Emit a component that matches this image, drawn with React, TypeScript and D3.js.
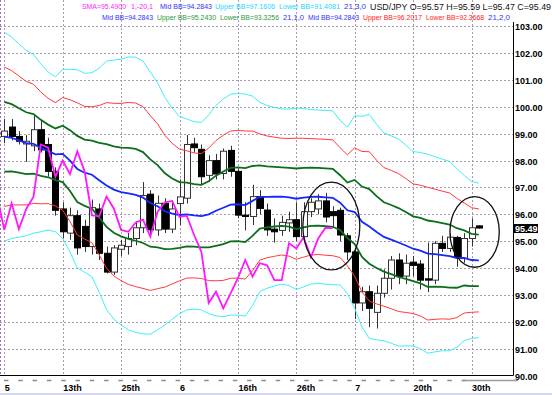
import React from 'react';
import * as d3 from 'd3';

// USD/JPY daily candles, left to right
const opens = [98.9, 99.25, 98.9, 98.62, 98.55, 99.15, 98.6, 97.6, 96.2, 95.3,
  95.95, 95.55, 94.8, 96.2, 94.55, 93.85, 94.7, 94.8, 95.1, 95.5,
  96.75, 95.42, 96.41, 95.45, 96.4, 96.6, 98.62, 98.42, 97.45, 98.0,
  97.52, 98.38, 97.6, 95.97, 95.92, 96.66, 96.16, 95.45, 95.4, 95.68,
  95.8, 95.17, 96.1, 96.2, 96.5, 96.1, 96.15, 95.2, 94.6, 92.7,
  93.12, 92.35, 93.06, 93.62, 94.3, 93.7, 94.22, 94.15, 93.6, 93.55,
  94.92, 94.73, 95.14, 94.36, 95.1, 95.57];
const highs = [99.55, 99.55, 99.1, 98.95, 99.7, 99.5, 98.85, 97.75, 96.45, 96.25,
  96.15, 95.8, 96.55, 96.4, 94.8, 94.85, 95.05, 95.3, 95.75, 97.2,
  96.9, 96.7, 96.6, 96.5, 97.3, 98.95, 98.85, 98.6, 98.2, 98.25,
  98.45, 98.55, 97.7, 96.45, 97.1, 96.9, 96.4, 95.85, 95.95, 96.1,
  96.45, 96.45, 96.6, 96.75, 96.8, 96.3, 96.25, 95.3, 94.75, 93.3,
  93.35, 93.35, 93.95, 94.45, 94.55, 94.5, 94.45, 94.3, 94.95, 95.0,
  95.2, 95.3, 95.2, 95.3, 95.85, 95.59];
const lows = [98.65, 98.75, 98.6, 97.95, 98.35, 98.3, 97.4, 95.95, 95.1, 95.05,
  94.5, 94.6, 94.5, 94.3, 93.8, 93.75, 94.45, 94.5, 94.85, 95.3,
  95.2, 95.2, 95.3, 95.3, 95.6, 96.4, 98.3, 97.1, 97.2, 97.3,
  97.3, 97.4, 95.85, 95.4, 95.6, 96.0, 95.2, 94.95, 95.2, 95.35,
  95.0, 95.0, 95.9, 96.0, 95.7, 95.5, 95.0, 94.3, 92.1, 92.4,
  91.8, 91.75, 92.9, 93.2, 93.4, 93.4, 93.7, 93.2, 93.1, 93.4,
  94.6, 94.6, 94.05, 94.2, 94.8, 95.47];
const closes = [99.1, 98.9, 98.72, 98.72, 99.15, 98.4, 97.6, 96.15, 95.35, 95.95,
  94.75, 94.8, 96.25, 94.55, 93.85, 94.75, 94.85, 95.1, 95.5, 96.7,
  95.42, 96.41, 95.45, 96.2, 96.65, 98.6, 98.48, 97.4, 98.0, 97.5,
  98.35, 97.6, 95.97, 95.92, 96.66, 96.22, 95.42, 95.35, 95.7, 95.8,
  95.17, 96.1, 96.45, 96.5, 95.9, 95.95, 95.23, 94.6, 92.7, 93.12,
  92.5, 93.06, 93.62, 94.3, 93.68, 94.18, 94.1, 93.55, 93.55, 94.92,
  94.73, 95.15, 94.4, 95.1, 95.5, 95.49];

// outer (3 sigma) Bollinger band, 21 periods
const bbUpper3 = [102.78, 102.6, 102.35, 102.1, 101.95, 101.6, 101.3, 101.12, 101.4, 101.4,
  101.38, 101.25, 101.27, 101.44, 101.7, 101.74, 101.78, 101.86, 101.85, 101.7,
  101.3, 100.9, 100.35, 99.95, 99.65, 99.55, 99.45, 99.42, 99.7, 100.05,
  100.3, 100.47, 100.5, 100.48, 100.4, 100.17, 100.05, 99.98, 99.92, 99.92,
  99.96, 99.94, 99.9, 99.88, 99.87, 99.85, 99.5, 99.25, 99.67, 99.65,
  99.72, 99.35, 99.03, 98.92, 98.8, 98.58, 98.34, 98.3, 98.24, 98.15,
  98.05, 97.97, 97.7, 97.45, 97.22, 97.16];
const bbLower3 = [95.0, 95.1, 95.15, 95.2, 95.3, 95.35, 95.42, 95.35, 95.1, 94.6,
  94.0, 93.85, 93.68, 93.1, 92.45, 92.1, 91.88, 91.7, 91.6, 91.55,
  91.54, 91.7, 91.88, 92.1, 92.3, 92.44, 92.47, 92.45, 92.3, 92.22,
  92.19, 92.25, 92.25, 92.21, 92.6, 93.12, 93.25, 93.33, 93.4, 93.35,
  93.2, 93.3, 93.4, 93.43, 93.4, 93.38, 93.37, 93.05, 92.5, 91.8,
  91.38, 91.33, 91.29, 91.2, 91.1, 91.1, 91.1, 91.0, 90.83, 90.88,
  90.92, 90.92, 91.05, 91.3, 91.38, 91.41];

const lagShift = 20; // SMA(1) shifted -20

const dateLabels = ['5', '13th', '25th', '6', '16th', '26th', '7', '20th', '30th'];
const labelEvery = 8;
const priceTicks = [90, 91, 92, 93, 94, 95, 96, 97, 98, 99, 100, 101, 102, 103];
const lastPrice = '95.49';

// the two hand drawn rings: candle index span and price span
const ringIdx = [[40.9, 48.7], [61.05, 67.8]];
const ringPrice = [[93.93, 97.2], [94.03, 96.66]];

const legendTop = [
  ['SMA=95.4900', '#ff22ff'], ['1,-20,1', '#ff22ff'], ['Mid BB=94.2843', '#3030ff'],
  ['Upper BB=97.1606', '#20d8ff'], ['Lower BB=91.4081', '#20d8ff'], ['21,3,0', '#3030ff'],
  ['USD/JPY O=95.57 H=95.59 L=95.47 C=95.49', '#111'],
];
const legendBottom = [
  ['Mid BB=94.2843', '#3030ff'], ['Upper BB=95.2430', '#2a9a3a'], ['Lower BB=93.3256', '#2a9a3a'],
  ['21,1,0', '#3030ff'], ['Mid BB=94.2843', '#3030ff'], ['Upper BB=96.2017', '#ff2020'],
  ['Lower BB=92.3668', '#ff2020'], ['21,2,0', '#3030ff'],
];
// [left, width] of each legend piece
const topX = [[82, 44], [131, 22], [160, 52], [215, 60], [279, 61], [344, 22], [370, 181]];
const bottomX = [[102, 51], [157, 59], [220, 59], [283, 21], [308, 51], [363, 59], [426, 58], [488, 22]];

const W = 552;
const H = 395;
const plotRight = 513.5;
const plotBottom = 375.5;

export default function App() {
  const x = d3.scaleLinear().domain([0, labelEvery * 8]).range([4.3, 471.5]);
  const y = d3.scaleLinear().domain([90, 103]).range([plotBottom, 26.3]);
  const idx = d3.range(closes.length);
  const mid = idx.map(i => (bbUpper3[i] + bbLower3[i]) / 2);
  const sd = idx.map(i => (bbUpper3[i] - bbLower3[i]) / 6);

  const band = (k: number) =>
    d3.line<number>().x(i => x(i)).y(i => y(mid[i] + k * sd[i]))(idx) || '';

  const lagPts: [number, number][] = closes
    .map((c, i) => [i - lagShift, c] as [number, number])
    .filter(d => d[0] >= -1);
  const lagPath = d3.line<[number, number]>().x(d => x(d[0])).y(d => y(d[1]))(lagPts) || '';

  const grid = '#a898b0';
  const font = '"Liberation Sans", Arial, sans-serif';

  return (
    <svg width={W} height={H} style={{ position: 'absolute', left: 0, top: 0, background: '#fff' }}
      fontFamily={font}>
      <defs>
        <clipPath id="plot">
          <rect x={0} y={0} width={plotRight} height={plotBottom} />
        </clipPath>
      </defs>

      {/* grid */}
      {priceTicks.slice(1).map(p => (
        <line key={'h' + p} x1={0} x2={plotRight} y1={Math.round(y(p)) + 0.5} y2={Math.round(y(p)) + 0.5}
          stroke={grid} strokeDasharray="2 2" />
      ))}
      {dateLabels.map((_, k) => (
        <line key={'v' + k} x1={Math.round(x(k * labelEvery)) + 0.5} x2={Math.round(x(k * labelEvery)) + 0.5}
          y1={0} y2={plotBottom} stroke={grid} strokeDasharray="2 2" />
      ))}
      <line x1={0.5} x2={0.5} y1={0} y2={plotBottom} stroke="#a070c0" strokeDasharray="2 2" />

      <g clipPath="url(#plot)">
        {/* candles */}
        {idx.map(i => {
          const up = closes[i] >= opens[i];
          const cx = Math.round(x(i)) + 0.5;
          const top = y(Math.max(opens[i], closes[i]));
          const bot = y(Math.min(opens[i], closes[i]));
          return (
            <g key={'c' + i}>
              <line x1={cx} x2={cx} y1={y(highs[i])} y2={y(lows[i])} stroke="#333" />
              <rect x={cx - 3} y={top} width={6} height={Math.max(1, bot - top)}
                fill={up ? '#fff' : '#000'} stroke={up ? '#333' : '#000'} strokeWidth={1} />
            </g>
          );
        })}

        {/* Bollinger bands */}
        <path d={band(3)} fill="none" stroke="#40eef6" strokeWidth={1} />
        <path d={band(-3)} fill="none" stroke="#40eef6" strokeWidth={1} />
        <path d={band(2)} fill="none" stroke="#ff3a3a" strokeWidth={1} />
        <path d={band(-2)} fill="none" stroke="#ff3a3a" strokeWidth={1} />
        <path d={band(1)} fill="none" stroke="#0a6e1a" strokeWidth={1.8} />
        <path d={band(-1)} fill="none" stroke="#0a6e1a" strokeWidth={1.8} />
        <path d={band(0)} fill="none" stroke="#1428ff" strokeWidth={1.8} />

        {/* lagging close */}
        <path d={lagPath} fill="none" stroke="#ff18ff" strokeWidth={1.8} />

        {ringIdx.map((r, k) => (
          <ellipse key={'r' + k} cx={(x(r[0]) + x(r[1])) / 2} cy={(y(ringPrice[k][0]) + y(ringPrice[k][1])) / 2}
            rx={(x(r[1]) - x(r[0])) / 2} ry={(y(ringPrice[k][0]) - y(ringPrice[k][1])) / 2}
            fill="none" stroke="#111" strokeWidth={1.3} />
        ))}
      </g>

      {/* axes */}
      <line x1={plotRight} x2={plotRight} y1={22} y2={plotBottom} stroke="#000" />
      <line x1={0} x2={plotRight} y1={plotBottom} y2={plotBottom} stroke="#000" />
      {priceTicks.map(p => (
        <text key={'t' + p} x={515} y={y(p) + 4} fontSize={9} fontWeight="bold" fill="#000">
          {p.toFixed(2)}
        </text>
      ))}
      <rect x={514} y={y(+lastPrice) - 4} width={24} height={9} fill="#000" />
      <text x={515} y={y(+lastPrice) + 3.5} fontSize={9} fontWeight="bold" fill="#fff">{lastPrice}</text>

      <line x1={4} x2={470} y1={380.5} y2={380.5} stroke="#8c8c8c" strokeWidth={1.5} strokeDasharray="4.5 9.8" />
      <line x1={463} x2={518} y1={380.5} y2={380.5} stroke="#9a9a9a" strokeWidth={1.5} />
      {dateLabels.map((d, k) => (
        <text key={'d' + k} x={x(k * labelEvery) + 0.5} y={391} fontSize={9} fontWeight="bold" fill="#000">{d}</text>
      ))}
      <line x1={0} x2={W} y1={394} y2={394} stroke="#c8c8ec" strokeWidth={1.5} />

      {/* legend */}
      {legendTop.map((s, k) => {
        const isSymbol = k === legendTop.length - 1;
        return (
          <text key={'lt' + k} x={topX[k][0]} y={isSymbol ? 10 : 9} fontSize={isSymbol ? 8.6 : 7} fill={s[1]}
            textLength={topX[k][1]} lengthAdjust="spacingAndGlyphs">{s[0]}</text>
        );
      })}
      {legendBottom.map((s, k) => (
        <text key={'lb' + k} x={bottomX[k][0]} y={19.5} fontSize={7} fill={s[1]}
          textLength={bottomX[k][1]} lengthAdjust="spacingAndGlyphs">{s[0]}</text>
      ))}
    </svg>
  );
}
